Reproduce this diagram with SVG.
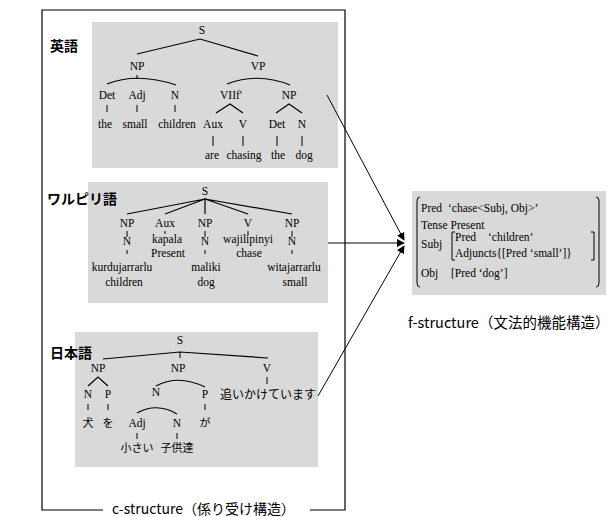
<svg xmlns="http://www.w3.org/2000/svg" width="610" height="517" viewBox="0 0 610 517">
<defs>
<style>
.t{font-family:"Liberation Serif",serif;font-size:11.5px;text-anchor:middle;fill:#000}
.tl{font-family:"Liberation Serif",serif;font-size:11.5px;fill:#000}
.j{font-family:"Noto Sans CJK JP",sans-serif;font-size:11px;text-anchor:middle;fill:#000}
.lab{font-family:"Noto Sans CJK JP",sans-serif;font-size:14px;font-weight:bold;fill:#000}
.cap{font-family:"Noto Sans CJK JP",sans-serif;font-size:14px;fill:#000}
.ln{stroke:#000;stroke-width:1.2;fill:none}
.tk{stroke:#000;stroke-width:1;fill:none}
.panel{fill:#d9d9d9}
.frame{stroke:#000;stroke-width:1.2;fill:none}
.con{stroke:#000;stroke-width:1;fill:none;marker-end:url(#ah)}
</style>
<marker id="ah" viewBox="0 0 10 10" refX="9" refY="5" markerWidth="8" markerHeight="8" orient="auto" markerUnits="userSpaceOnUse">
<path d="M0,0 L10,5 L0,10 z" fill="#000"/>
</marker>
</defs>
<rect width="610" height="517" fill="#fff"/>

<g id="frame">
<path class="frame" d="M103,510 H42 V10 H345 V510 H310"/>
<text class="cap" x="112" y="514">c-structure（係り受け構造）</text>
</g>

<g id="english">
<rect class="panel" x="92" y="22" width="246" height="146"/>
<text class="lab" x="50" y="51">英語</text>
<text class="t" x="202" y="34">S</text>
<path class="ln" d="M137,54 L200,39 L258,56"/>
<text class="t" x="137" y="70">NP</text>
<text class="t" x="258" y="70">VP</text>
<path class="ln" d="M107,84 Q137,72 176,85"/>
<path class="tk" d="M137,75 V79"/>
<path class="ln" d="M227,84 Q258,72 290,85"/>
<text class="t" x="107" y="99">Det</text>
<text class="t" x="137" y="99">Adj</text>
<text class="t" x="175" y="99">N</text>
<path class="tk" d="M107,105 V112 M137,105 V112 M175,105 V112"/>
<text class="t" x="105" y="128">the</text>
<text class="t" x="135" y="128">small</text>
<text class="t" x="177" y="128">children</text>
<text class="t" x="231" y="99">VIIf'</text>
<text class="t" x="289" y="99">NP</text>
<path class="ln" d="M216,113 L230,104 L243,113 M276,113 L289,104 L302,113"/>
<text class="t" x="213" y="128">Aux</text>
<text class="t" x="243" y="128">V</text>
<text class="t" x="277" y="128">Det</text>
<text class="t" x="302" y="128">N</text>
<path class="tk" d="M213,136 V146 M243,136 V146 M277,136 V146 M302,136 V146"/>
<text class="t" x="212" y="159">are</text>
<text class="t" x="244" y="159">chasing</text>
<text class="t" x="278" y="159">the</text>
<text class="t" x="304" y="159">dog</text>
</g>

<g id="warlpiri">
<rect class="panel" x="88" y="182" width="240" height="121"/>
<text class="lab" x="47" y="204">ワルピリ語</text>
<text class="t" x="205" y="195">S</text>
<path class="ln" d="M127,214 L205,199 L165,214 M205,199 V214 M205,199 L248,214 M205,199 L292,214"/>
<text class="t" x="127" y="227">NP</text>
<text class="t" x="165" y="227">Aux</text>
<text class="t" x="205" y="227">NP</text>
<text class="t" x="248" y="227">V</text>
<text class="t" x="292" y="227">NP</text>
<path class="tk" d="M127,231 V237 M165,231 V234 M205,231 V237 M248,231 V235 M292,231 V237"/>
<text class="t" x="127" y="245">N</text>
<text class="t" x="167" y="243">kapala</text>
<text class="t" x="205" y="245">N</text>
<text class="t" x="248" y="243">wajilipinyi</text>
<text class="t" x="292" y="245">N</text>
<text class="t" x="168" y="257">Present</text>
<text class="t" x="249" y="257">chase</text>
<path class="tk" d="M127,250 V254 M205,250 V254 M292,250 V254"/>
<text class="t" x="122" y="271">kurdujarrarlu</text>
<text class="t" x="206" y="271">maliki</text>
<text class="t" x="294" y="271">witajarrarlu</text>
<text class="t" x="124" y="286">children</text>
<text class="t" x="206" y="286">dog</text>
<text class="t" x="295" y="286">small</text>
</g>

<g id="japanese">
<rect class="panel" x="75" y="332" width="243" height="135"/>
<text class="lab" x="50" y="358">日本語</text>
<text class="t" x="180" y="344">S</text>
<path class="ln" d="M103,359 L180,352 L268,358"/>
<path class="tk" d="M180,352 V358"/>
<text class="t" x="98" y="372">NP</text>
<text class="t" x="178" y="372">NP</text>
<text class="t" x="267" y="372">V</text>
<path class="ln" d="M88,386 L98,377 L108,386"/>
<path class="ln" d="M156,386 Q178,374 205,387"/>
<path class="tk" d="M267,377 V384"/>
<text class="t" x="88" y="398">N</text>
<text class="t" x="108" y="398">P</text>
<text class="t" x="156" y="396">N</text>
<text class="t" x="205" y="398">P</text>
<text class="j" x="220" y="399" style="text-anchor:start;font-size:12px">追いかけています</text>
<path class="tk" d="M88,404 V410 M108,404 V410 M205,404 V410"/>
<path class="ln" d="M137,413 Q157,402 177,414"/>
<text class="j" x="88" y="427">犬</text>
<text class="j" x="108" y="427">を</text>
<text class="t" x="137" y="427">Adj</text>
<text class="t" x="177" y="427">N</text>
<text class="j" x="205" y="427">が</text>
<path class="tk" d="M137,433 V439 M177,433 V439"/>
<text class="j" x="137" y="452">小さい</text>
<text class="j" x="177" y="452">子供達</text>
</g>

<g id="fstructure">
<rect class="panel" x="412" y="191" width="194" height="104"/>
<path class="tk" d="M420,197 Q417,197 417,201 V283 Q417,287 420,287"/>
<path class="tk" d="M596,197 Q599,197 599,201 V283 Q599,287 596,287"/>
<text class="tl" x="421" y="212">Pred<tspan x="448">‘chase&lt;Subj, Obj&gt;’</tspan></text>
<text class="tl" x="421" y="229">Tense Present</text>
<text class="tl" x="421" y="248">Subj</text>
<path class="tk" d="M455,232 H452 V260 H455"/>
<text class="tl" x="455" y="241">Pred<tspan x="488">‘children’</tspan></text>
<text class="tl" x="455" y="257">Adjuncts{[Pred ‘small’]}</text>
<path class="tk" d="M591,232 H594 V260 H591"/>
<text class="tl" x="421" y="277">Obj</text>
<text class="tl" x="451" y="277">[Pred ‘dog’]</text>
<text class="cap" x="408" y="328" style="font-size:14.5px">f-structure（文法的機能構造）</text>
</g>

<g id="connectors">
<path class="con" d="M327,95 L404,240"/>
<path class="con" d="M328,243 L404,243"/>
<path class="con" d="M318,396 L404,246"/>
</g>
</svg>
